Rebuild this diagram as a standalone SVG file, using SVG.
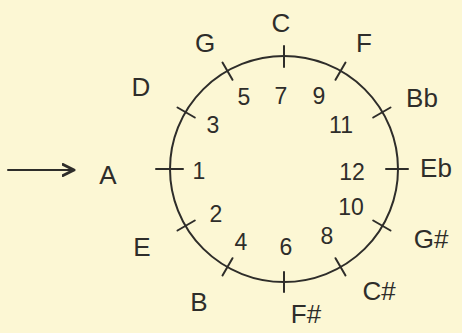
<svg xmlns="http://www.w3.org/2000/svg" width="462" height="333" viewBox="0 0 462 333">
<defs>
<style>
.ln{stroke:#2e2d2a;stroke-width:2;fill:none;stroke-linecap:round}
.lt{font-family:"Liberation Sans",Arial,sans-serif;font-size:26px;fill:#2e2d2a;text-anchor:middle}
.nm{font-family:"Liberation Sans",Arial,sans-serif;font-size:23px;fill:#2e2d2a;text-anchor:middle}
</style>
<marker id="ah" viewBox="0 0 14 14" refX="12" refY="7" markerWidth="14" markerHeight="14" markerUnits="userSpaceOnUse" orient="auto">
<polyline points="1,1.5 12,7 1,12.5" fill="none" stroke="#2e2d2a" stroke-width="3" stroke-linejoin="round" stroke-linecap="round"/>
</marker>
</defs>
<rect width="462" height="333" fill="#fcf7d4"/>
<g id="circle">
<ellipse class="ln" cx="284" cy="169" rx="114" ry="113"/>
</g>
<g id="connectors">
<line class="ln" x1="8" y1="170" x2="74" y2="170" marker-end="url(#ah)"/>
</g>
<g id="ticks">
<line class="ln" x1="284" y1="67" x2="284" y2="46"/>
<line class="ln" x1="335.5" y1="79.8" x2="345.5" y2="62.5"/>
<line class="ln" x1="373.2" y1="117.5" x2="390.5" y2="107.5"/>
<line class="ln" x1="386" y1="169" x2="408" y2="169"/>
<line class="ln" x1="373.2" y1="220.5" x2="390.5" y2="230.5"/>
<line class="ln" x1="335.5" y1="258.2" x2="345.5" y2="275.5"/>
<line class="ln" x1="284" y1="272" x2="284" y2="292"/>
<line class="ln" x1="232.5" y1="258.2" x2="222.5" y2="275.5"/>
<line class="ln" x1="194.8" y1="220.5" x2="177.5" y2="230.5"/>
<line class="ln" x1="183" y1="169" x2="156" y2="169"/>
<line class="ln" x1="194.8" y1="117.5" x2="177.5" y2="107.5"/>
<line class="ln" x1="232.5" y1="79.8" x2="222.5" y2="62.5"/>
</g>
<g id="node-C"><text class="lt" x="281" y="32">C</text><text class="nm" x="281" y="104">7</text></g>
<g id="node-F"><text class="lt" x="364" y="52">F</text><text class="nm" x="319" y="104">9</text></g>
<g id="node-Bb"><text class="lt" x="422" y="107">Bb</text><text class="nm" x="341" y="133">11</text></g>
<g id="node-Eb"><text class="lt" x="436" y="177">Eb</text><text class="nm" x="352" y="180">12</text></g>
<g id="node-Gs"><text class="lt" x="431" y="248">G#</text><text class="nm" x="351" y="215">10</text></g>
<g id="node-Cs"><text class="lt" x="379" y="300">C#</text><text class="nm" x="327" y="244">8</text></g>
<g id="node-Fs"><text class="lt" x="306" y="323">F#</text><text class="nm" x="286" y="255">6</text></g>
<g id="node-B"><text class="lt" x="199" y="311">B</text><text class="nm" x="241" y="250">4</text></g>
<g id="node-E"><text class="lt" x="142" y="256">E</text><text class="nm" x="216" y="222">2</text></g>
<g id="node-A"><text class="lt" x="108" y="184">A</text><text class="nm" x="199" y="179">1</text></g>
<g id="node-D"><text class="lt" x="141" y="96">D</text><text class="nm" x="213" y="133">3</text></g>
<g id="node-G"><text class="lt" x="205" y="52">G</text><text class="nm" x="244" y="105">5</text></g>
</svg>
